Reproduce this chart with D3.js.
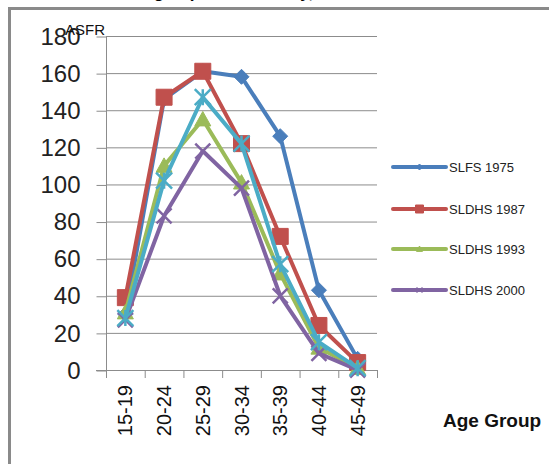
<!DOCTYPE html>
<html>
<head>
  <meta charset="utf-8">
  <script src="https://d3js.org/d3.v7.min.js"></script>
  <style>
    body { margin: 0; background: #fff; }
    svg { display: block; font-family: "Liberation Sans", Arial, sans-serif; }
  </style>
</head>
<body>
  <div id="chart"></div>
  <script>
    // data
    var ageGroups = ["15-19", "20-24", "25-29", "30-34", "35-39", "40-44", "45-49"];
    var seriesNames = ["SLFS 1975", "SLDHS 1987", "SLDHS 1993", "SLDHS 2000", "SLDHS 2006-07"];
    var slfs1975  = [30, 146, 161, 158, 126, 43, 6];
    var sldhs1987 = [39, 147, 161, 122, 72, 24, 4];
    var sldhs1993 = [31, 110, 135, 101, 52, 12, 1];
    var sldhs2000 = [27, 83, 118, 98, 40, 9, 0];
    var sldhs2006 = [28, 102, 147, 122, 57, 15, 1];
    var yTicks = [0, 20, 40, 60, 80, 100, 120, 140, 160, 180];

    var allValues = [slfs1975, sldhs1987, sldhs1993, sldhs2000, sldhs2006];
    var colors = ["#4A7EBB", "#C0504D", "#9BBB59", "#8064A2", "#4BACC6"];
    var markers = ["diamond", "square", "triangle", "cross", "star"];

    var W = 549, H = 464;
    var plotLeft = 106, plotRight = 377, plotTop = 36, plotBottom = 370;

    var svg = d3.select("#chart").append("svg")
      .attr("width", W).attr("height", H);

    // frame (clipped chart area border)
    svg.append("path")
      .attr("d", "M9.5," + H + " V8.5 H" + W)
      .attr("fill", "none")
      .attr("stroke", "#8a8a8a")
      .attr("stroke-width", 3);

    // title, mostly cut off at the top
    svg.append("text")
      .attr("x", 268).attr("y", -2)
      .attr("text-anchor", "middle")
      .attr("font-size", 17).attr("font-weight", "bold")
      .text("Age Specific Fertility, Sri Lanka");

    var x = d3.scaleBand().domain(ageGroups).range([plotLeft, plotRight]);
    var y = d3.scaleLinear().domain([0, 180]).range([plotBottom, plotTop]);

    // gridlines
    svg.append("g").selectAll("line")
      .data(yTicks.filter(function(d) { return d > 0; }))
      .enter().append("line")
      .attr("x1", plotLeft).attr("x2", plotRight)
      .attr("y1", function(d) { return y(d) + 0.5; })
      .attr("y2", function(d) { return y(d) + 0.5; })
      .attr("stroke", "#8c8c8c").attr("stroke-width", 1);

    // y axis
    var yAxis = svg.append("g")
      .attr("transform", "translate(" + (plotLeft + 0.5) + ",0.5)")
      .call(d3.axisLeft(y).tickValues(yTicks).tickSize(10).tickPadding(16));
    yAxis.selectAll("line, path").attr("stroke", "#8c8c8c");
    yAxis.select(".domain").attr("d", "M0," + plotTop + "V" + plotBottom);
    yAxis.selectAll("text")
      .attr("font-size", 24).attr("fill", "#222")
      .attr("font-family", "Liberation Sans, Arial, sans-serif");

    // x axis
    svg.append("line")
      .attr("x1", plotLeft - 10).attr("x2", plotRight)
      .attr("y1", plotBottom + 0.5).attr("y2", plotBottom + 0.5)
      .attr("stroke", "#8c8c8c");
    var bounds = ageGroups.map(function(d) { return x(d); }).concat([plotRight]);
    svg.append("g").selectAll("line")
      .data(bounds).enter().append("line")
      .attr("x1", function(d) { return d + 0.5; })
      .attr("x2", function(d) { return d + 0.5; })
      .attr("y1", plotBottom).attr("y2", plotBottom + 8)
      .attr("stroke", "#8c8c8c");

    svg.append("g").selectAll("text")
      .data(ageGroups).enter().append("text")
      .attr("transform", function(d) {
        return "translate(" + (x(d) + x.bandwidth() / 2 + 7) + "," + (plotBottom + 15) + ") rotate(-90)";
      })
      .attr("text-anchor", "end")
      .attr("font-size", 20).attr("fill", "#111")
      .text(function(d) { return d; });

    svg.append("text")
      .attr("x", 65).attr("y", 35)
      .attr("font-size", 15).attr("fill", "#111")
      .text("ASFR");

    svg.append("text")
      .attr("x", 443).attr("y", 427)
      .attr("font-size", 19).attr("font-weight", "bold").attr("fill", "#111")
      .text("Age Group");

    function markerPath(type, s) {
      var h = s / 2;
      if (type === "diamond") return "M0," + (-h) + "L" + h + ",0L0," + h + "L" + (-h) + ",0Z";
      if (type === "square") return "M" + (-h) + "," + (-h) + "H" + h + "V" + h + "H" + (-h) + "Z";
      if (type === "triangle") return "M0," + (-h) + "L" + h + "," + (h * 0.8) + "L" + (-h) + "," + (h * 0.8) + "Z";
      if (type === "cross") return "M" + (-h) + "," + (-h) + "L" + h + "," + h + "M" + (-h) + "," + h + "L" + h + "," + (-h);
      return "M" + (-h) + "," + (-h) + "L" + h + "," + h + "M" + (-h) + "," + h + "L" + h + "," + (-h) + "M0," + (-h) + "V" + h;
    }
    var markerSize = [15, 16, 16, 15, 16];

    var line = d3.line()
      .x(function(d, i) { return x(ageGroups[i]) + x.bandwidth() / 2; })
      .y(function(d) { return y(d); });

    allValues.forEach(function(vals, k) {
      var g = svg.append("g");
      g.append("path")
        .datum(vals)
        .attr("d", line)
        .attr("fill", "none")
        .attr("stroke", colors[k])
        .attr("stroke-width", 4)
        .attr("stroke-linejoin", "round");
      var filled = markers[k] !== "cross" && markers[k] !== "star";
      g.selectAll(".m")
        .data(vals).enter().append("path")
        .attr("transform", function(d, i) {
          return "translate(" + (x(ageGroups[i]) + x.bandwidth() / 2) + "," + y(d) + ")";
        })
        .attr("d", markerPath(markers[k], markerSize[k]))
        .attr("fill", filled ? colors[k] : "none")
        .attr("stroke", colors[k])
        .attr("stroke-width", filled ? 1 : 2.5);
    });

    // legend (only four entries visible in the original)
    var legY = [167, 209, 249, 290];
    seriesNames.slice(0, 4).forEach(function(name, k) {
      var g = svg.append("g").attr("transform", "translate(0," + legY[k] + ")");
      g.append("line")
        .attr("x1", 393).attr("x2", 446)
        .attr("stroke", colors[k]).attr("stroke-width", 4)
        .attr("stroke-linecap", "round");
      g.append("path")
        .attr("transform", "translate(419.5,0)")
        .attr("d", markerPath(markers[k], markers[k] === "square" ? 8 : 6))
        .attr("fill", colors[k]).attr("stroke", colors[k]).attr("stroke-width", 1);
      g.append("text")
        .attr("x", 449).attr("y", 5)
        .attr("font-size", 13).attr("fill", "#222")
        .text(name);
    });
  </script>
</body>
</html>
